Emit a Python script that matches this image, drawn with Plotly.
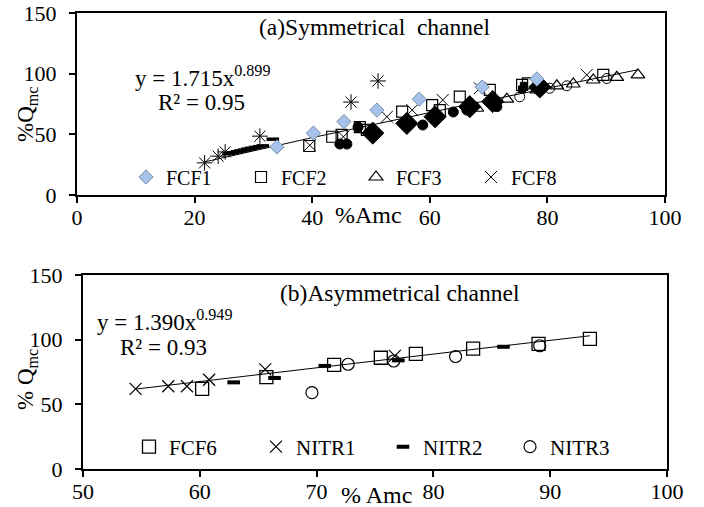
import numpy as np
import plotly.graph_objects as go

W, H = 704, 507
FONT = "Liberation Serif"

# ---------------- (a) Symmetrical channel ----------------
fcf1_x = [34.0, 40.2, 45.4, 51.0, 58.2, 68.9, 78.2]
fcf1_y = [39.6, 51.0, 60.5, 70.0, 79.0, 89.0, 95.6]
fcf2_x = [39.5, 43.4, 45.0, 48.1, 49.3, 55.3, 60.4, 61.7, 65.1, 70.2, 75.7, 76.7, 89.5]
fcf2_y = [40.4, 48.0, 49.5, 56.0, 53.6, 68.7, 74.0, 70.0, 81.0, 86.6, 90.7, 92.0, 99.0]
fcf3_x = [68.0, 73.1, 78.2, 81.6, 84.4, 87.8, 91.8, 95.4]
fcf3_y = [71.5, 79.0, 86.6, 90.0, 91.5, 94.8, 97.0, 99.0]
fcf8_x = [39.6, 45.3, 52.7, 57.0, 62.2, 68.5, 86.7]
fcf8_y = [41.0, 48.0, 64.5, 70.0, 78.3, 88.0, 99.0]
star_x = [21.7, 24.0, 25.2, 31.1, 46.6, 51.2]
star_y = [26.5, 32.0, 35.5, 48.5, 76.6, 94.0]
dash_x = [25.8, 26.5, 27.2, 27.8, 28.4, 29.0, 29.6, 30.3, 31.0, 31.6, 33.3]
dash_y = [34.0, 34.8, 35.6, 36.3, 37.0, 37.8, 38.5, 39.2, 39.8, 40.5, 46.0]
bcirc_x = [44.7, 45.9, 47.8, 58.8, 64.0, 66.3, 71.4]
bcirc_y = [42.0, 42.0, 56.0, 57.7, 68.4, 70.0, 72.8]
bdia_x = [50.3, 56.1, 60.9, 66.8, 70.7, 78.7]
bdia_y = [51.0, 59.0, 64.5, 72.8, 77.0, 89.0]
ocirc_x = [75.3, 80.4, 83.3, 90.1]
ocirc_y = [81.0, 88.0, 90.0, 96.0]
bsq_x = [75.7, 76.0]
bsq_y = [87.0, 90.0]
fit_a = (1.715, 0.899, 21.7, 95.4)

# ---------------- (b) Asymmetrical channel ----------------
fcf6_x = [60.2, 65.7, 71.5, 75.5, 78.5, 83.4, 89.0, 93.4]
fcf6_y = [62.0, 71.0, 80.5, 86.0, 89.0, 93.0, 96.7, 100.6]
nitr1_x = [54.5, 57.3, 58.9, 60.8, 65.6, 76.7]
nitr1_y = [62.0, 64.0, 64.0, 69.0, 77.0, 87.5]
nitr2_x = [62.9, 66.4, 70.7, 77.0, 86.0]
nitr2_y = [67.0, 70.4, 79.7, 84.0, 94.5]
nitr3_x = [69.6, 72.7, 76.6, 81.9, 89.1]
nitr3_y = [59.0, 81.0, 83.5, 87.0, 95.3]
fit_b = (1.390, 0.949, 54.5, 93.4)

fig = go.Figure()

def add(x, y, name, symbol, size, color="black", fill=None, lw=1.0,
        xa="x", ya="y", legend="legend", show=False, rank=1000):
    fig.add_trace(go.Scatter(
        x=x, y=y, mode="markers", name=name, xaxis=xa, yaxis=ya,
        legend=legend, showlegend=show, legendrank=rank,
        marker=dict(symbol=symbol, size=size,
                    color=fill if fill is not None else color,
                    line=dict(color=color, width=lw))))

def add_fit(a, b, x0, x1, xa, ya):
    xs = np.linspace(x0, x1, 60)
    fig.add_trace(go.Scatter(x=xs, y=a * xs ** b, mode="lines", xaxis=xa, yaxis=ya,
                             showlegend=False, line=dict(color="black", width=1)))

# panel (a)
add_fit(*fit_a, "x", "y")
add(dash_x, dash_y, "dash", "line-ew-open", 9, lw=3.5)
add(bcirc_x, bcirc_y, "bc", "circle", 10)
add(bdia_x, bdia_y, "bd", "diamond", 17)
add(bsq_x, bsq_y, "bs", "square", 7)
add(ocirc_x, ocirc_y, "oc", "circle-open", 10)
add(star_x, star_y, "st", "asterisk-open", 13, lw=1)
add(fcf2_x, fcf2_y, "FCF2", "square-open", 11, lw=1.2, show=True, rank=2)
add(fcf3_x, fcf3_y, "FCF3", "triangle-up-open", 12, lw=1.2, show=True, rank=3)
add(fcf8_x, fcf8_y, "FCF8", "x-thin-open", 12, lw=1, show=True, rank=4)
add(fcf1_x, fcf1_y, "FCF1", "diamond", 11, color="#7d8ea8", fill="#a4c2ea", lw=1, show=True, rank=1)

# panel (b)
add_fit(*fit_b, "x2", "y2")
add(fcf6_x, fcf6_y, "FCF6", "square-open", 13, lw=1.3, xa="x2", ya="y2", legend="legend2", show=True, rank=1)
add(nitr1_x, nitr1_y, "NITR1", "x-thin-open", 12, lw=1.2, xa="x2", ya="y2", legend="legend2", show=True, rank=2)
add(nitr2_x, nitr2_y, "NITR2", "line-ew-open", 9, lw=4, xa="x2", ya="y2", legend="legend2", show=True, rank=3)
add(nitr3_x, nitr3_y, "NITR3", "circle-open", 12, lw=1.2, xa="x2", ya="y2", legend="legend2", show=True, rank=4)

def px_x(p):
    return p / W

def px_y(p):
    return 1 - p / H

axis_common = dict(showline=True, linecolor="black", linewidth=2, mirror=True,
                   ticks="outside", ticklen=6, tickwidth=1.5, tickcolor="black",
                   showgrid=False, zeroline=False, automargin=False,
                   ticklabeloverflow="allow",
                   tickfont=dict(family=FONT, size=22, color="black"))

fig.update_layout(
    template="none",
    width=W, height=H, margin=dict(l=0, r=0, t=0, b=0, autoexpand=False),
    plot_bgcolor="white", paper_bgcolor="white",
    font=dict(family=FONT, color="black"),
    xaxis=dict(domain=[px_x(77), px_x(665)], range=[0, 100], tickvals=[0, 20, 40, 60, 80, 100],
               anchor="y", ticklabelstandoff=-4, **axis_common),
    yaxis=dict(domain=[px_y(195), px_y(13)], range=[0, 150], tickvals=[0, 50, 100, 150],
               anchor="x", ticklabelstandoff=8, **axis_common),
    xaxis2=dict(domain=[px_x(83), px_x(667)], range=[50, 100], tickvals=[50, 60, 70, 80, 90, 100],
                anchor="y2", ticklabelstandoff=-4, **axis_common),
    yaxis2=dict(domain=[px_y(469), px_y(275)], range=[0, 150], tickvals=[0, 50, 100, 150],
                anchor="x2", ticklabelstandoff=8, **axis_common),
    legend=dict(orientation="h", x=px_x(126), y=px_y(177), xanchor="left", yanchor="middle",
                bgcolor="rgba(0,0,0,0)", entrywidth=70, itemwidth=30,
                font=dict(family=FONT, size=20, color="black")),
    legend2=dict(orientation="h", x=px_x(129), y=px_y(447), xanchor="left", yanchor="middle",
                 bgcolor="rgba(0,0,0,0)", entrywidth=82, itemwidth=30,
                 font=dict(family=FONT, size=21, color="black")),
)

def ann(text, x, y, size, angle=0, xanchor="center"):
    fig.add_annotation(text=text, x=px_x(x), y=px_y(y), xref="paper", yref="paper",
                       showarrow=False, xanchor=xanchor, yanchor="middle", textangle=angle,
                       font=dict(family=FONT, size=size, color="black"))

ann("(a)Symmetrical&nbsp;&nbsp;channel", 374, 27, 23.5)
ann("y = 1.715x<sup>0.899</sup>", 133, 76, 23, xanchor="left")
ann("R² = 0.95", 156, 102, 23, xanchor="left")
ann("%Q<sub>mc</sub>", 27, 115, 23, angle=-90)
ann("%Amc", 368, 215, 24)

ann("(b)Asymmetrical channel", 400, 293, 23.5)
ann("y = 1.390x<sup>0.949</sup>", 95, 320, 23, xanchor="left")
ann("R² = 0.93", 118, 347, 23, xanchor="left")
ann("% Q<sub>mc</sub>", 27, 380, 23, angle=-90)
ann("% Amc", 376, 495, 24)

fig.write_html("out.html", config={"displayModeBar": False},
               post_script="document.body.style.margin='0px';document.body.style.overflow='hidden';")
